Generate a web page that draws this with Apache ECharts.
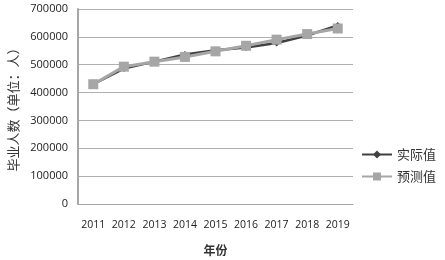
<!DOCTYPE html>
<html><head><meta charset="utf-8">
<script src="https://cdn.jsdelivr.net/npm/echarts@6/dist/echarts.min.js"></script>
<style>html,body{margin:0;padding:0;background:#fff}#c{width:445px;height:260px}</style>
</head><body><div id="c"></div>
<script>
const categories = ['2011','2012','2013','2014','2015','2016','2017','2018','2019'];
const actual = [430000, 486000, 511000, 537000, 552000, 562000, 578000, 605000, 641000];
const predicted = [430000, 493000, 511000, 528000, 548000, 568000, 590000, 610000, 630000];
const yTicks = [0,100000,200000,300000,400000,500000,600000,700000];

const chart = echarts.init(document.getElementById('c'));
chart.setOption({
  animation: false,
  grid: {left: 78, right: 92, top: 9, bottom: 56, outerBoundsMode: 'none', containLabel: false},
  legend: {
    orient: 'vertical', right: 4, top: 143, itemGap: 9,
    itemWidth: 30, itemHeight: 10,
    textStyle: {fontFamily: 'Noto Sans CJK SC', fontSize: 13, color: '#333'},
    data: ['实际值','预测值']
  },
  xAxis: {
    type: 'category', data: categories, boundaryGap: true,
    name: '年份', nameLocation: 'middle', nameGap: 40,
    nameTextStyle: {fontFamily: 'Noto Sans CJK SC', fontSize: 12, fontWeight: 'bold', color: '#333'},
    axisLine: {lineStyle: {color: '#a6a6a6', width: 1}},
    axisTick: {show: false},
    axisLabel: {interval: 0, fontFamily: 'Open Sans', fontSize: 10.5, color: '#222', margin: 16}
  },
  yAxis: {
    type: 'value', min: 0, max: 700000, interval: 100000,
    name: '毕业人数（单位：人）', nameLocation: 'middle', nameGap: 58, nameRotate: 90,
    nameTextStyle: {fontFamily: 'Noto Sans CJK SC', fontSize: 13, color: '#333'},
    axisLine: {show: true, lineStyle: {color: '#a6a6a6', width: 2}},
    axisTick: {show: false},
    axisLabel: {fontFamily: 'Open Sans', fontSize: 11, color: '#222', margin: 10,
      formatter: v => yTicks.includes(v) ? String(v) : ''},
    splitLine: {lineStyle: {color: '#b0b0b0', width: 1}}
  },
  series: [
    {name: '实际值', type: 'line', data: actual, symbol: 'diamond', symbolSize: 7,
     lineStyle: {color: '#404040', width: 2.5}, itemStyle: {color: '#404040'}},
    {name: '预测值', type: 'line', data: predicted, symbol: 'rect', symbolSize: 10,
     lineStyle: {color: '#a6a6a6', width: 3}, itemStyle: {color: '#a6a6a6'}}
  ]
});
</script></body></html>
